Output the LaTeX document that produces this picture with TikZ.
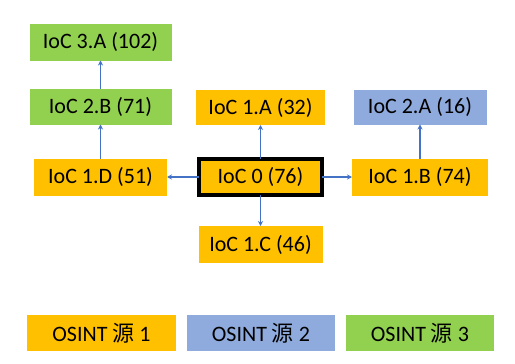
\documentclass[tikz,border=0pt]{standalone}
\usepackage{fontspec}
\setmainfont{Carlito}
\newfontfamily\cjk{Noto Sans CJK SC}
\usetikzlibrary{positioning,arrows.meta}
\definecolor{srcorange}{HTML}{FFC000}
\definecolor{srcblue}{HTML}{8FAADC}
\definecolor{srcgreen}{HTML}{92D050}
\definecolor{linkblue}{HTML}{4472C4}

\begin{document}
\begin{tikzpicture}[x=1pt, y=1pt,
        iocbox/.style={inner sep=0pt, outer sep=0pt, minimum height=36pt, font=\fontsize{22}{25}\selectfont},
        link/.style={-{Stealth[length=5pt, width=5pt]}, linkblue, line width=1.6pt}]
        \useasboundingbox (0,0) rectangle (515,-364);
        % centre node and first ring
        \node[iocbox, fill=srcorange, draw=black, line width=4pt, minimum width=123pt, minimum height=36pt] (c0) at (260.5,-177) {IoC 0 (76)};
        \node[iocbox, fill=srcorange, minimum width=129pt, minimum height=35pt, above=34pt of c0] (a1) {IoC 1.A (32)};
        \node[iocbox, fill=srcorange, minimum width=136pt, minimum height=37pt, right=30pt of c0] (b1) {IoC 1.B (74)};
        \node[iocbox, fill=srcorange, minimum width=124pt, minimum height=37pt, below=31pt of c0] (c1) {IoC 1.C (46)};
        \node[iocbox, fill=srcorange, minimum width=133pt, minimum height=37pt, left=32pt of c0] (d1) {IoC 1.D (51)};
        % further hops
        \node[iocbox, fill=srcblue, minimum width=133pt, minimum height=35pt, above=34pt of b1] (a2) {IoC 2.A (16)};
        \node[iocbox, fill=srcgreen, minimum width=142pt, minimum height=36pt, above=34pt of d1] (b2) {IoC 2.B (71)};
        \node[iocbox, fill=srcgreen, minimum width=142pt, minimum height=37pt, above=28pt of b2] (a3) {IoC 3.A (102)};
        \draw[link] (c0) -- (a1);
        \draw[link] (c0) -- (b1);
        \draw[link] (c0) -- (c1);
        \draw[link] (c0) -- (d1);
        \draw[link] (b1) -- (a2);
        \draw[link] (d1) -- (b2);
        \draw[link] (b2) -- (a3);
        % legend
        \node[iocbox, fill=srcorange, minimum width=149pt] (src1) at (101.5,-333) {OSINT {\cjk 源} 1};
        \node[iocbox, fill=srcblue, minimum width=148pt, right=11pt of src1] (src2) {OSINT {\cjk 源} 2};
        \node[iocbox, fill=srcgreen, minimum width=148pt, right=11pt of src2] (src3) {OSINT {\cjk 源} 3};
    \end{tikzpicture}
\end{document}
